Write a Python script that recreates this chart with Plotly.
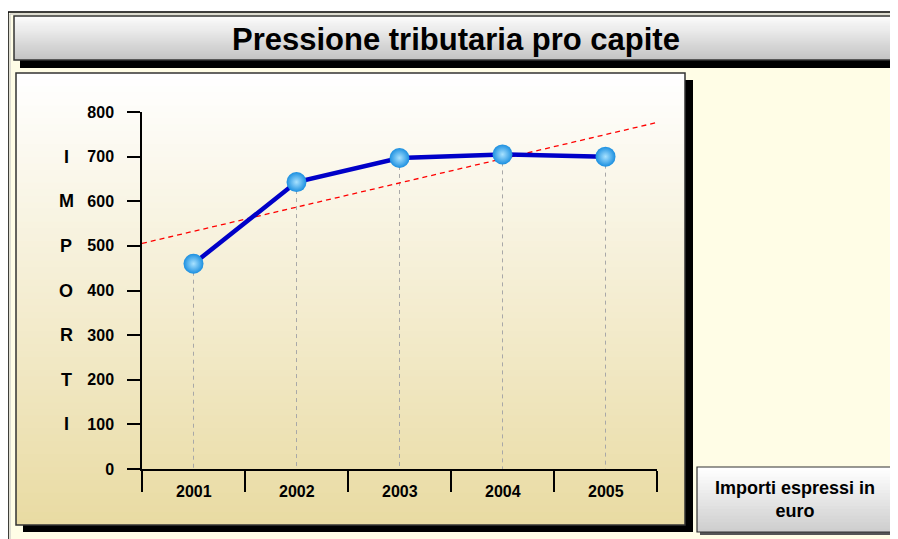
import numpy as np
import plotly.graph_objects as go

# data
years = ["2001", "2002", "2003", "2004", "2005"]
importi = [460, 643, 697, 705, 700]
y_ticks = [0, 100, 200, 300, 400, 500, 600, 700, 800]
axis_letters = ["I", "M", "P", "O", "R", "T", "I"]
title_text = "Pressione tributaria pro capite"
note_text = "Importi espressi in<br>euro"

# page is 898x539 but the html body adds an 8px margin
OFF = 8
W, H = 898 - OFF, 539 - OFF
# plot area in page pixels
L, R, T, B = 142, 657, 112, 469

FONT = "Liberation Sans, Arial, sans-serif"


def px_x(x):
    return (x - L) / (R - L)


def px_y(y):
    return (B - y) / (B - T)


def rect(x0, y0, x1, y1, fill, line=None, lw=0):
    return dict(type="rect", xref="paper", yref="paper", layer="below",
                x0=px_x(x0), x1=px_x(x1), y0=px_y(y1), y1=px_y(y0),
                fillcolor=fill, line=dict(color=line or fill, width=lw))


def mix(c0, c1, t):
    return "rgb(%d,%d,%d)" % tuple(round(a + (b - a) * t) for a, b in zip(c0, c1))


def gradient(x0, y0, x1, y1, top, bottom, n=60):
    # each strip runs to the bottom so there are no seams between them
    out = []
    step = (y1 - y0) / n
    for i in range(n):
        out.append(rect(x0, y0 + i * step, x1, y1, mix(top, bottom, i / (n - 1))))
    return out


shapes = []
# outer frame
shapes.append(rect(8, 12, 905, 545, "#FFFDE6", "#000000", 1.5))
shapes.append(rect(10, 14, 905, 545, "rgba(0,0,0,0)", "#BDBDBD", 1))
# title box
shapes.append(rect(20, 24, 905, 68, "#000000"))
shapes += gradient(14, 16, 905, 60, (252, 252, 252), (196, 196, 196), 30)
shapes.append(rect(14, 16, 905, 60, "rgba(0,0,0,0)", "#333333", 1.5))
# plot panel
shapes.append(rect(23, 80, 693, 532, "#000000"))
shapes += gradient(16, 73, 685, 525, (255, 255, 255), (233, 219, 163), 70)
shapes.append(rect(16, 73, 685, 525, "rgba(0,0,0,0)", "#333333", 1.5))
# note box
shapes.append(rect(700, 469, 897, 535, "#555555"))
shapes += gradient(697, 467, 894, 532, (255, 255, 255), (206, 206, 206), 20)
shapes.append(rect(697, 467, 894, 532, "rgba(0,0,0,0)", "#333333", 1.2))

xs = np.arange(len(years))
slope, icpt = np.polyfit(xs, importi, 1)
trend_x = np.array([-0.5, len(years) - 0.5])
trend_y = slope * trend_x + icpt

drop_x, drop_y = [], []
for i, v in enumerate(importi):
    drop_x += [i, i, None]
    drop_y += [v, 0, None]

fig = go.Figure()
fig.add_trace(go.Scatter(x=drop_x, y=drop_y, mode="lines", hoverinfo="skip",
                         line=dict(color="#A8A8A8", width=1, dash="4px,4px")))
fig.add_trace(go.Scatter(x=trend_x, y=trend_y, mode="lines", hoverinfo="skip",
                         line=dict(color="#FF0000", width=1.3, dash="5px,4px")))
fig.add_trace(go.Scatter(
    x=xs, y=importi, mode="lines+markers",
    line=dict(color="#0000C8", width=4.5),
    marker=dict(size=20, color="#1B8FE0",
                gradient=dict(type="radial", color="#A8E2FF"),
                line=dict(width=0)),
))

bold = lambda s: dict(family=FONT, size=s, color="#000", weight="bold")

annotations = [dict(x=i, y=px_y(491), xref="x", yref="paper", text=yr,
                    showarrow=False, xanchor="center", yanchor="middle", font=bold(16))
               for i, yr in enumerate(years)]
for k, ch in enumerate(axis_letters):
    annotations.append(dict(x=px_x(66), y=700 - 100 * k, xref="paper", yref="y",
                            text=ch, showarrow=False, xanchor="center",
                            yanchor="middle", font=bold(18)))
annotations.append(dict(x=px_x(456), y=px_y(39), xref="paper", yref="paper",
                        text=title_text, showarrow=False, xanchor="center",
                        yanchor="middle", font=bold(31)))
annotations.append(dict(x=px_x(795), y=px_y(500), xref="paper", yref="paper",
                        text=note_text, showarrow=False, xanchor="center",
                        yanchor="middle", font=bold(18)))

fig.update_layout(
    width=W, height=H,
    margin=dict(l=L - OFF, r=898 - R, t=T - OFF, b=539 - B, pad=0),
    paper_bgcolor="#FFFFFF",
    plot_bgcolor="rgba(0,0,0,0)",
    showlegend=False,
    shapes=shapes,
    annotations=annotations,
    xaxis=dict(range=[-0.5, len(years) - 0.5], tickvals=list(np.arange(len(years) + 1) - 0.5),
               showticklabels=False, ticks="outside", ticklen=21, tickwidth=2,
               tickcolor="#000", showline=True, linecolor="#000", linewidth=1.5,
               showgrid=False, zeroline=False, fixedrange=True),
    yaxis=dict(range=[0, 800], tickvals=y_ticks, ticks="outside", ticklen=13,
               tickwidth=2, tickcolor="#000", showline=True, linecolor="#000",
               linewidth=1.5, showgrid=False, zeroline=False, ticklabelstandoff=10,
               tickfont=bold(16), fixedrange=True),
)

fig.write_html("out.html")
